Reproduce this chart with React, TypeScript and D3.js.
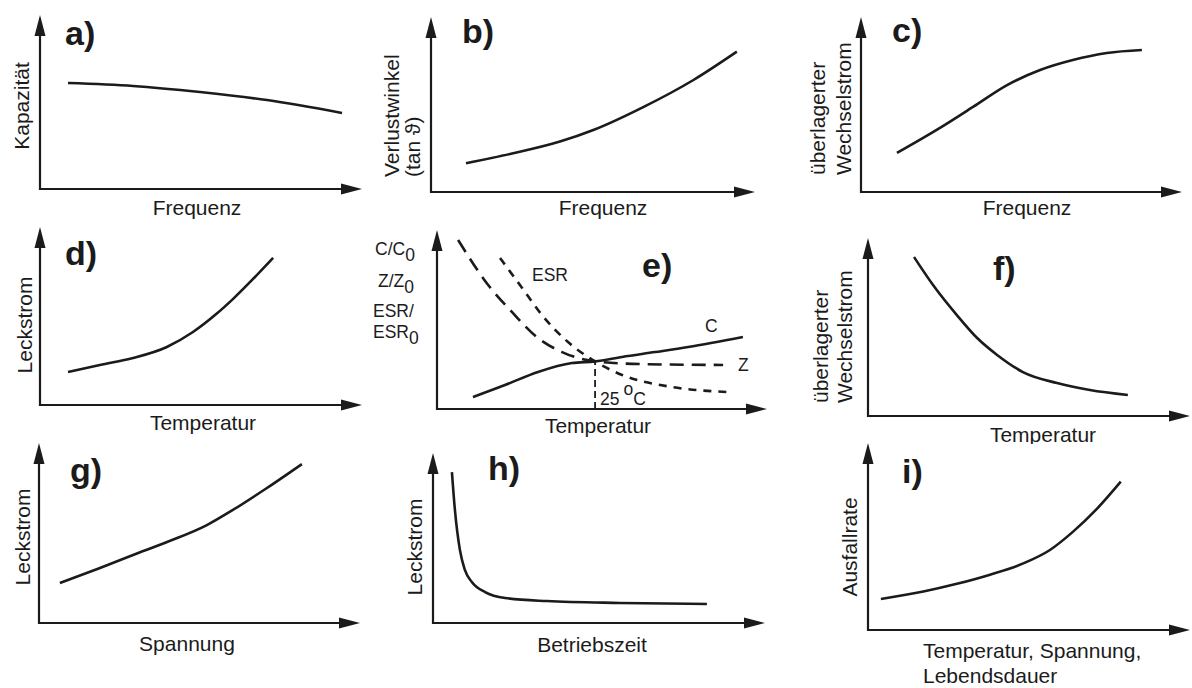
import React from "react";
import * as d3 from "d3";

type Pt = [number, number];

// curve values, x and y in percent of each axis length
const kapazitaet: Pt[] = [[8.7, 60.9], [28.9, 59.2], [49.7, 55.7], [70.5, 51.1], [93.8, 43.7]];
const verlustwinkel: Pt[] = [[10.8, 16.4], [24.4, 21.7], [39.8, 28.8], [50.1, 35.4], [65.5, 48.5], [81.0, 64.0], [94.4, 80.2]];
const wechselstromFreq: Pt[] = [[11.2, 22.3], [24.6, 36.6], [34.9, 48.6], [45.5, 61.1], [55.8, 69.7], [66.0, 75.4], [76.6, 79.4], [87.5, 81.1]];
const leckstromTemp: Pt[] = [[8.7, 18.5], [18.6, 22.5], [28.9, 26.4], [39.4, 32.6], [47.5, 41.0], [55.0, 51.5], [59.9, 59.5], [72.4, 82.6]];
const eC: Pt[] = [[10.9, 6.7], [20.6, 13.4], [30.6, 20.7], [40.9, 25.7], [47.9, 26.6], [56.1, 29.1], [66.1, 31.8], [76.1, 34.6], [92.7, 40.2]];
const eZ: Pt[] = [[6.4, 94.4], [15.5, 69.3], [22.7, 54.2], [30.6, 39.7], [37.9, 31.8], [47.9, 26.6], [61.5, 25.1], [86.7, 24.6]];
const eESR: Pt[] = [[19.1, 84.4], [25.8, 67.6], [31.8, 52.5], [39.7, 37.4], [47.9, 26.6], [56.1, 19.0], [71.2, 12.3], [87.9, 9.5]];
const eRef: Pt[] = [[47.9, 0], [47.9, 26.6]];
const wechselstromTemp: Pt[] = [[14.3, 89.3], [20.2, 73.6], [27.6, 56.7], [33.9, 43.8], [40.1, 34.3], [48.1, 24.7], [58.7, 18.5], [68.9, 14.6], [80.7, 11.8]];
const leckstromSpannung: Pt[] = [[6.5, 22.2], [19.0, 30.6], [29.3, 37.8], [39.9, 45.0], [52.3, 54.4], [60.4, 62.8], [71.0, 75.0], [81.9, 88.3]];
const leckstromZeit: Pt[] = [[5.7, 88.8], [6.6, 66.5], [8.1, 43.0], [9.6, 31.2], [11.7, 24.1], [15.7, 18.2], [21.7, 14.7], [34.3, 12.9], [56.3, 11.8], [82.5, 11.2]];
const ausfallrate: Pt[] = [[4.0, 16.6], [17.2, 20.6], [27.6, 24.7], [37.9, 29.6], [48.2, 35.6], [56.5, 42.8], [63.7, 52.6], [71.0, 64.6], [78.5, 79.3]];

const letters = ["a)", "b)", "c)", "d)", "e)", "f)", "g)", "h)", "i)"];
const xLabels = [["Frequenz"], ["Frequenz"], ["Frequenz"], ["Temperatur"], ["Temperatur"], ["Temperatur"], ["Spannung"], ["Betriebszeit"], ["Temperatur, Spannung,", "Lebendsdauer"]];
const yLabels = [["Kapazität"], ["Verlustwinkel", "(tan ϑ)"], ["überlagerter", "Wechselstrom"], ["Leckstrom"], [], ["überlagerter", "Wechselstrom"], ["Leckstrom"], ["Leckstrom"], ["Ausfallrate"]];

const FONT = "'Liberation Sans', Arial, Helvetica, sans-serif";
const INK = "#1b1b1b";

// layout of each small plot: axis corner, arrow tips, text anchors
const layout = [
  { x0: 40, y0: 189, x1: 362, y1: 15, letter: [65, 45], xl: [197, 215, "middle"], yl: { xs: [29], y: 106, anchor: "middle" } },
  { x0: 431, y0: 192, x1: 755, y1: 17, letter: [462, 43], xl: [603, 215, "middle"], yl: { xs: [399, 420], y: 177, anchor: "start" } },
  { x0: 861, y0: 192, x1: 1182, y1: 17, letter: [892, 42], xl: [1027, 215, "middle"], yl: { xs: [825, 851], y: 175, anchor: "start" } },
  { x0: 40, y0: 405, x1: 362, y1: 227, letter: [65, 265], xl: [203, 430, "middle"], yl: { xs: [32], y: 325, anchor: "middle" } },
  { x0: 437, y0: 409, x1: 767, y1: 230, letter: [642, 277], xl: [598, 433, "middle"], yl: { xs: [], y: 0, anchor: "middle" } },
  { x0: 868, y0: 416, x1: 1190, y1: 238, letter: [993, 280], xl: [1043, 442, "middle"], yl: { xs: [828, 852], y: 403, anchor: "start" } },
  { x0: 39, y0: 623, x1: 360, y1: 443, letter: [70, 482], xl: [187, 651, "middle"], yl: { xs: [30], y: 537, anchor: "middle" } },
  { x0: 433, y0: 623, x1: 765, y1: 453, letter: [488, 480], xl: [592, 652, "middle"], yl: { xs: [422], y: 547, anchor: "middle" } },
  { x0: 868, y0: 630, x1: 1190, y1: 443, letter: [902, 483], xl: [923, 658, "start"], yl: { xs: [857], y: 547, anchor: "middle" } },
];

type Curve = { data: Pt[]; dash?: string; width?: number; straight?: boolean };

const curves: Curve[][] = [
  [{ data: kapazitaet }],
  [{ data: verlustwinkel }],
  [{ data: wechselstromFreq }],
  [{ data: leckstromTemp }],
  [
    { data: eC },
    { data: eZ, dash: "14 8" },
    { data: eESR, dash: "8 7" },
    { data: eRef, dash: "7 4", width: 1.8, straight: true },
  ],
  [{ data: wechselstromTemp }],
  [{ data: leckstromSpannung }],
  [{ data: leckstromZeit }],
  [{ data: ausfallrate }],
];

const ARROW_LEN = 21;
const ARROW_HALF = 5.5;

function Panel({ i }: { i: number }) {
  const L = layout[i];
  const x = d3.scaleLinear().domain([0, 100]).range([L.x0, L.x1]);
  const y = d3.scaleLinear().domain([0, 100]).range([L.y0, L.y1]);
  const smooth = d3.line<Pt>().x((d) => x(d[0])).y((d) => y(d[1])).curve(d3.curveMonotoneX);
  const straight = d3.line<Pt>().x((d) => x(d[0])).y((d) => y(d[1]));

  const xTip = x(100);
  const yTip = y(100);
  const axisPath = `M${x(0)},${yTip + ARROW_LEN}L${x(0)},${y(0)}L${xTip - ARROW_LEN},${y(0)}`;
  const xHead = `M${xTip},${y(0)}L${xTip - ARROW_LEN},${y(0) - ARROW_HALF}L${xTip - ARROW_LEN},${y(0) + ARROW_HALF}Z`;
  const yHead = `M${x(0)},${yTip}L${x(0) - ARROW_HALF},${yTip + ARROW_LEN}L${x(0) + ARROW_HALF},${yTip + ARROW_LEN}Z`;

  const xl = L.xl as [number, number, string];
  const yl = L.yl;

  return (
    <g>
      <path d={axisPath} fill="none" stroke={INK} strokeWidth={2.2} />
      <path d={xHead} fill={INK} />
      <path d={yHead} fill={INK} />

      {curves[i].map((c, k) => (
        <path
          key={k}
          d={(c.straight ? straight(c.data) : smooth(c.data)) || ""}
          fill="none"
          stroke={INK}
          strokeWidth={c.width ?? 2.6}
          strokeDasharray={c.dash}
        />
      ))}

      <text x={L.letter[0]} y={L.letter[1]} fontSize={34} fontWeight="bold" fill={INK}>
        {letters[i]}
      </text>

      <g clipPath={i === 5 ? "url(#clipF)" : undefined}>
        {xLabels[i].map((s, k) => (
          <text key={k} x={xl[0]} y={xl[1] + k * 25} fontSize={21} textAnchor={xl[2] as any} fill={INK}>
            {s}
          </text>
        ))}
      </g>

      {yLabels[i].map((s, k) => (
        <text
          key={k}
          transform={`translate(${yl.xs[k]},${yl.y}) rotate(-90)`}
          fontSize={21}
          textAnchor={yl.anchor as any}
          fill={INK}
        >
          {s}
        </text>
      ))}
    </g>
  );
}

function PanelEText() {
  return (
    <g fontSize={17.5} fill={INK}>
      <text x={375} y={255}>C/C<tspan dy={6}>0</tspan></text>
      <text x={378} y={287}>Z/Z<tspan dy={6}>0</tspan></text>
      <text x={373} y={317}>ESR/</text>
      <text x={373} y={338}>ESR<tspan dy={6}>0</tspan></text>
      <text x={532} y={281}>ESR</text>
      <text x={705} y={332}>C</text>
      <text x={738} y={371}>Z</text>
      <text x={600} y={405}>25<tspan dx={4} dy={-10}>o</tspan><tspan dy={10}>C</tspan></text>
    </g>
  );
}

export default function App() {
  return (
    <svg
      width={1192}
      height={688}
      style={{ position: "absolute", left: 0, top: 0, background: "#fff" }}
      fontFamily={FONT}
    >
      <defs>
        <clipPath id="clipF">
          <rect x={790} y={380} width={402} height={64} />
        </clipPath>
      </defs>
      <rect width={1192} height={688} fill="#fff" />
      {layout.map((_, i) => (
        <Panel key={i} i={i} />
      ))}
      <PanelEText />
    </svg>
  );
}
